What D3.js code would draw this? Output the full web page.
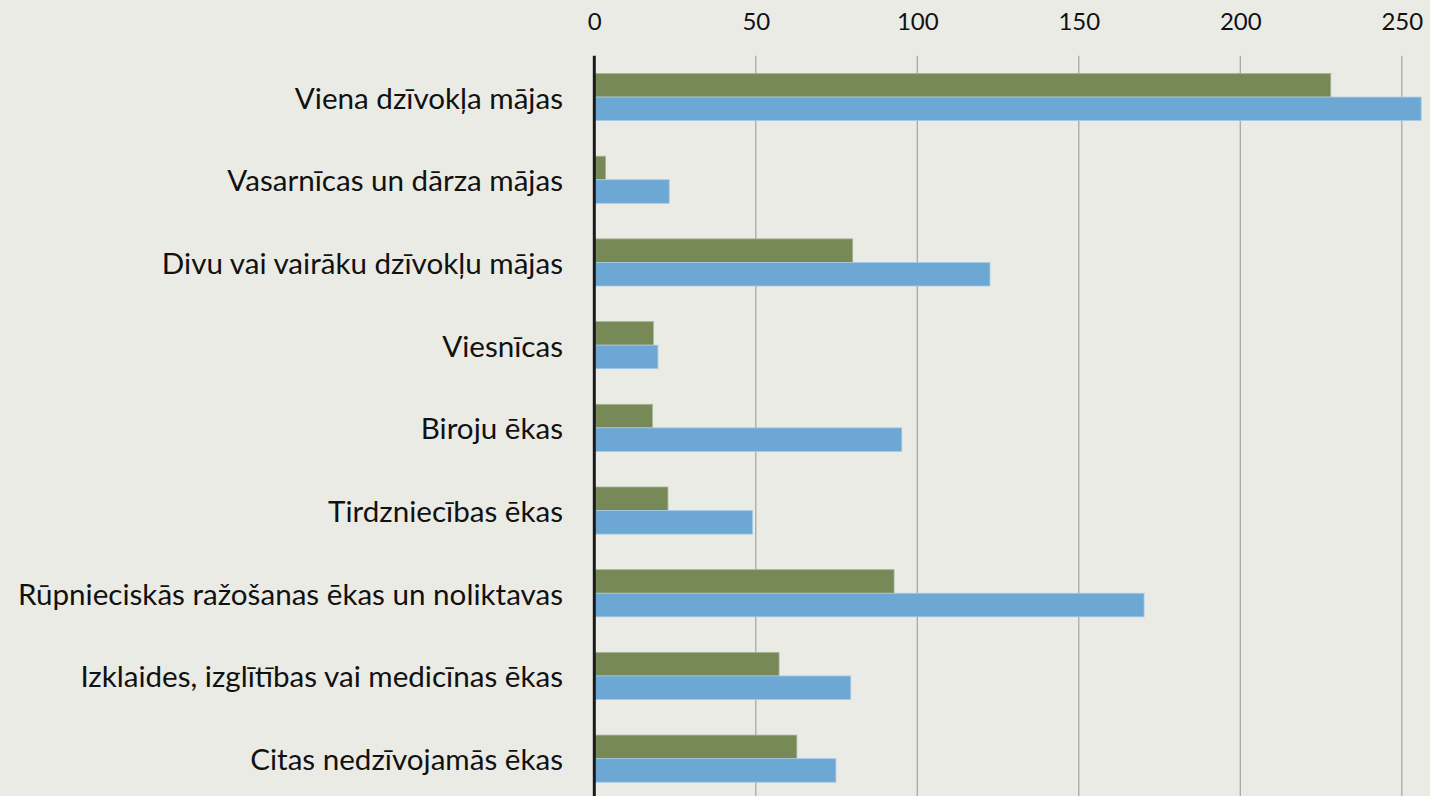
<!DOCTYPE html>
<html>
<head>
<meta charset="utf-8">
<script src="https://cdn.jsdelivr.net/npm/d3@7"></script>
<style>
  html, body { margin: 0; padding: 0; background: #ebebe6; }
  svg { display: block; }
  text { font-family: Lato, "Open Sans", sans-serif; fill: #111; }
</style>
</head>
<body>
<svg id="chart" width="1430" height="796"></svg>
<script>
// Building types (category axis, top to bottom)
const categories = [
  "Viena dzīvokļa mājas",
  "Vasarnīcas un dārza mājas",
  "Divu vai vairāku dzīvokļu mājas",
  "Viesnīcas",
  "Biroju ēkas",
  "Tirdzniecības ēkas",
  "Rūpnieciskās ražošanas ēkas un noliktavas",
  "Izklaides, izglītības vai medicīnas ēkas",
  "Citas nedzīvojamās ēkas"
];
// First series (green, upper bar of each pair)
const seriesA = [228, 3.5, 80, 18.3, 18, 22.8, 92.8, 57.2, 62.7];
// Second series (blue, lower bar of each pair)
const seriesB = [256, 23.2, 122.5, 19.7, 95.2, 49, 170.2, 79.4, 74.8];
// Value axis ticks
const tickValues = [0, 50, 100, 150, 200, 250];

const colorA = "#778956";
const colorB = "#6ca8d3";

const svg = d3.select("#chart");
const W = 1430, H = 796;
const plot = { left: 594.3, top: 55.7, bottom: 800 };

const x = d3.scaleLinear().domain([0, 250]).range([plot.left, plot.left + 5 * 161.5]);
const y = d3.scaleBand().domain(categories).range([plot.top, plot.bottom]).paddingInner(0.43).paddingOuter(0.215);
const sub = d3.scaleBand().domain(["a", "b"]).range([0, y.bandwidth()]);

// Vertical gridlines
svg.append("g").selectAll("line").data(tickValues.filter(d => d > 0)).join("line")
  .attr("x1", d => x(d)).attr("x2", d => x(d))
  .attr("y1", plot.top).attr("y2", H)
  .attr("stroke", "#a8a8a6").attr("stroke-width", 1.3);

// Top value axis labels
const axis = d3.axisTop(x).tickValues(tickValues).tickSize(0).tickPadding(0);
const gAxis = svg.append("g").attr("transform", "translate(0,30)").call(axis);
gAxis.select(".domain").remove();
gAxis.selectAll("text").attr("font-size", 24).attr("font-family", "Lato, 'Open Sans', sans-serif").attr("fill", "#111").attr("dy", 0);

// Bars
const groups = svg.append("g").selectAll("g").data(categories).join("g")
  .attr("transform", d => `translate(0,${y(d)})`);
groups.append("rect")
  .attr("x", x(0)).attr("y", sub("a"))
  .attr("width", (d, i) => x(seriesA[i]) - x(0)).attr("height", sub.bandwidth())
  .attr("fill", colorA).attr("stroke", "#a9b595").attr("stroke-width", 0.8);
groups.append("rect")
  .attr("x", x(0)).attr("y", sub("b"))
  .attr("width", (d, i) => x(seriesB[i]) - x(0)).attr("height", sub.bandwidth())
  .attr("fill", colorB).attr("stroke", "#a6cbe6").attr("stroke-width", 0.8);

// Category labels
svg.append("g").selectAll("text").data(categories).join("text")
  .attr("x", 563).attr("y", d => y(d) + y.bandwidth() / 2)
  .attr("text-anchor", "end").attr("dominant-baseline", "central")
  .attr("font-size", 29.6)
  .text(d => d);

// Zero line
svg.append("line")
  .attr("x1", x(0)).attr("x2", x(0)).attr("y1", plot.top).attr("y2", H)
  .attr("stroke", "#1a1a1a").attr("stroke-width", 3);
</script>
</body>
</html>
